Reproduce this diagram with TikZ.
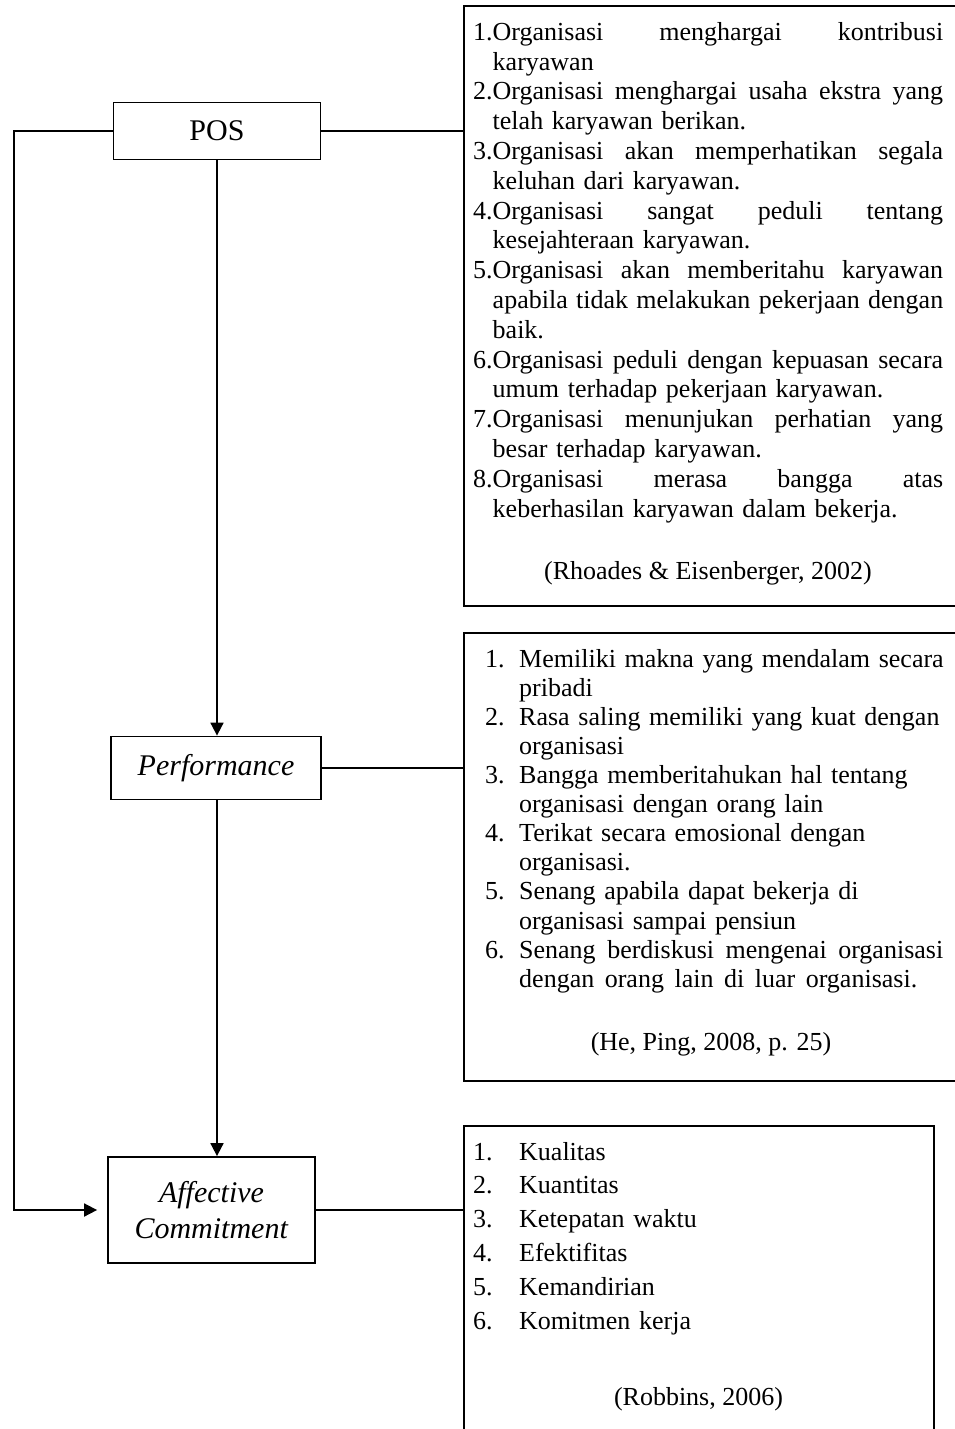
\documentclass[tikz,border=0pt]{standalone}
\usepackage{fontspec}
\setmainfont{Liberation Serif}
\usetikzlibrary{arrows.meta}
\newcommand{\hangsp}{\hphantom{1.}}
\newcommand{\nmb}[1]{\makebox[34pt][l]{#1}}
\newcommand{\nmc}[1]{\makebox[46pt][l]{#1}}
\newcommand{\jst}[2]{\makebox[#1][s]{\spaceskip=0pt\xspaceskip=0pt\relax #2}}
\begin{document}
\begin{tikzpicture}[x=1pt,y=-1pt,
  box/.style={draw, line width=1.8pt, rectangle, inner sep=0pt},
  lbl/.style={box, font=\fontsize{30}{36}\selectfont, align=center},
  arr/.style={line width=1.8pt, -{Triangle[length=13pt,width=13pt]}},
  ln/.style={line width=1.8pt},
  list/.style={inner sep=0pt, anchor=north west},
  cite/.style={inner sep=0pt, anchor=base, font=\fontsize{26}{30}\selectfont}]
\useasboundingbox (0,0) rectangle (954,1429);

% left-hand variables
\node[lbl, minimum width=207pt, minimum height=57pt] (pos) at (217,131) {POS};
\node[lbl, minimum width=210pt, minimum height=63pt] (perf) at (216,768) {\textit{Performance}};
\node[lbl, minimum width=207pt, minimum height=106pt] (ac) at (211.5,1210) {\textit{Affective}\\\textit{Commitment}};

% indicator boxes
\node[box, anchor=north west, minimum width=493pt, minimum height=600pt] (b1) at (463,5) {};
\node[box, anchor=north west, minimum width=493pt, minimum height=448pt] (b2) at (463,632) {};
\node[box, anchor=north west, minimum width=470pt, minimum height=315pt] (b3) at (463,1125) {};

% connectors
\coordinate (lx) at (14,0);
\draw[ln] (pos.east) -- (pos.east -| b1.west);
\draw[ln] (perf.east) -- (perf.east -| b2.west);
\draw[ln] (ac.east) -- (ac.east -| b3.west);
\draw[arr] (pos.south) -- (pos.south |- perf.north);
\draw[arr] (pos.south |- perf.south) -- (pos.south |- ac.north);
\draw[arr, shorten >=10pt] (pos.west) -- (pos.west -| lx) |- (ac.west);

% box 1 text
\node[list, text width=472pt, font=\fontsize{26}{29.8}\selectfont] (t1) at (473,19.2) {%
\strut\jst{470pt}{1.Organisasi menghargai kontribusi}\\
\hangsp karyawan\\
\jst{470pt}{2.Organisasi menghargai usaha ekstra yang}\\
\hangsp telah karyawan berikan.\\
\jst{470pt}{3.Organisasi akan memperhatikan segala}\\
\hangsp keluhan dari karyawan.\\
\jst{470pt}{4.Organisasi sangat peduli tentang}\\
\hangsp kesejahteraan karyawan.\\
\jst{470pt}{5.Organisasi akan memberitahu karyawan}\\
\jst{470pt}{\hangsp apabila tidak melakukan pekerjaan dengan}\\
\hangsp baik.\\
\jst{470pt}{6.Organisasi peduli dengan kepuasan secara}\\
\hangsp umum terhadap pekerjaan karyawan.\\
\jst{470pt}{7.Organisasi menunjukan perhatian yang}\\
\hangsp besar terhadap karyawan.\\
\jst{470pt}{8.Organisasi merasa bangga atas}\\
\hangsp keberhasilan karyawan dalam bekerja.};
\node[cite] (c1) at (708,579) {(Rhoades \& Eisenberger, 2002)};

% box 2 text
\node[list, text width=462pt, font=\fontsize{26}{29.1}\selectfont] (t2) at (485,646.6) {%
\strut\nmb{1.}Memiliki makna yang mendalam secara\\
\nmb{}pribadi\\
\nmb{2.}Rasa saling memiliki yang kuat dengan\\
\nmb{}organisasi\\
\nmb{3.}Bangga memberitahukan hal tentang\\
\nmb{}organisasi dengan orang lain\\
\nmb{4.}Terikat secara emosional dengan\\
\nmb{}organisasi.\\
\nmb{5.}Senang apabila dapat bekerja di\\
\nmb{}organisasi sampai pensiun\\
\nmb{6.}\jst{424pt}{Senang berdiskusi mengenai organisasi}\\
\nmb{}\jst{398pt}{dengan orang lain di luar organisasi.}};
\node[cite] (c2) at (711,1050) {(He, Ping, 2008, p. 25)};

% box 3 text
\node[list, text width=440pt, font=\fontsize{26}{33.8}\selectfont] (t3) at (473,1136.3) {%
\strut\nmc{1.}Kualitas\\
\nmc{2.}Kuantitas\\
\nmc{3.}Ketepatan waktu\\
\nmc{4.}Efektifitas\\
\nmc{5.}Kemandirian\\
\nmc{6.}Komitmen kerja};
\node[cite] (c3) at (698.5,1405) {(Robbins, 2006)};
\end{tikzpicture}
\end{document}
